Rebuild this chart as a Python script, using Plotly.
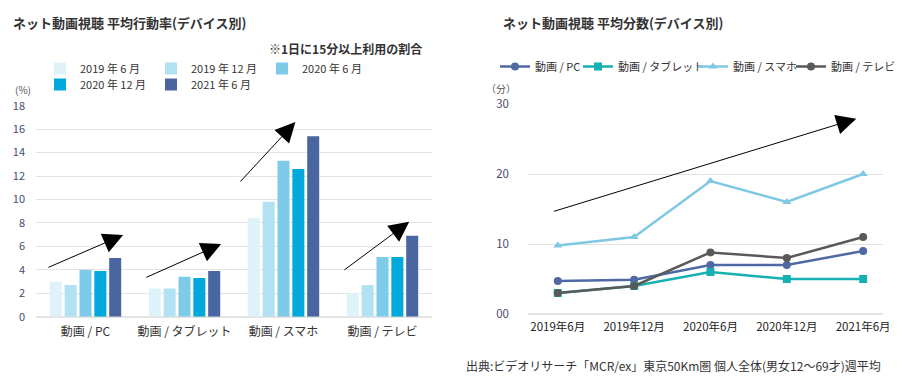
import plotly.graph_objects as go

# ---------- Left chart data: average activity rate (%) ----------
devices = ["動画 / PC", "動画 / タブレット", "動画 / スマホ", "動画 / テレビ"]
period_labels = ["2019 年 6 月", "2019 年 12 月", "2020 年 6 月", "2020 年 12 月", "2021 年 6 月"]
rate_2019_06 = [3.0, 2.4, 8.4, 2.0]
rate_2019_12 = [2.7, 2.4, 9.8, 2.7]
rate_2020_06 = [4.0, 3.4, 13.3, 5.1]
rate_2020_12 = [3.9, 3.3, 12.6, 5.1]
rate_2021_06 = [5.0, 3.9, 15.4, 6.9]
bar_colors = ["#dff1f9", "#b2e1f3", "#7dcbe9", "#00a8dc", "#4a66a1"]

# ---------- Right chart data: average minutes ----------
months = ["2019年6月", "2019年12月", "2020年6月", "2020年12月", "2021年6月"]
min_pc = [4.7, 4.9, 7.0, 7.0, 9.0]
min_tablet = [3.0, 4.0, 6.0, 5.0, 5.0]
min_smartphone = [9.8, 11.0, 19.0, 16.0, 20.0]
min_tv = [3.0, 4.0, 8.8, 8.0, 11.0]
line_names = ["動画 / PC", "動画 / タブレット", "動画 / スマホ", "動画 / テレビ"]
line_colors = ["#4e69a3", "#17b0b2", "#7ec8e3", "#595959"]
line_symbols = ["circle", "square", "triangle-up", "circle"]
y_ticks_right = [0, 10, 20, 30]
y_ticktext_right = ["00", "10", "20", "30"]

FONT = "Noto Sans CJK JP"
W, H = 914, 382

fig = go.Figure()

rates = [rate_2019_06, rate_2019_12, rate_2020_06, rate_2020_12, rate_2021_06]
for i, (lab, vals, col) in enumerate(zip(period_labels, rates, bar_colors)):
    fig.add_trace(go.Bar(
        x=devices, y=vals, name=lab, marker_color=col, marker_line_width=0,
        xaxis="x", yaxis="y", legend="legend" if i < 3 else "legend3",
    ))

line_legends = ["legend2", "legend4", "legend5", "legend6"]
minutes = [min_pc, min_tablet, min_smartphone, min_tv]
for nm, vals, col, sym, lg in zip(line_names, minutes, line_colors, line_symbols, line_legends):
    fig.add_trace(go.Scatter(
        x=months, y=vals, name=nm, mode="lines+markers",
        line=dict(color=col, width=2.5), marker=dict(color=col, size=8, symbol=sym),
        xaxis="x2", yaxis="y2", legend=lg,
    ))

# arrows (tail -> head) in data coordinates
left_arrows = [(-0.39, 4.15, 0.38, 6.97), (0.60, 3.3, 1.37, 6.2),
               (1.55, 11.4, 2.12, 16.6), (2.60, 3.9, 3.27, 8.1)]
annotations = []
for ax_, ay_, x_, y_ in left_arrows:
    annotations.append(dict(x=x_, y=y_, ax=ax_, ay=ay_, xref="x", yref="y", axref="x", ayref="y",
                            text="", showarrow=True, arrowhead=2, arrowsize=4, arrowwidth=1,
                            arrowcolor="#000000"))
annotations.append(dict(x=3.91, y=27.9, ax=-0.07, ay=14.6, xref="x2", yref="y2", axref="x2", ayref="y2",
                        text="", showarrow=True, arrowhead=2, arrowsize=4, arrowwidth=1,
                        arrowcolor="#000000"))

def ptxt(text, x, y, size, color="#333333", bold=False, xanchor="left"):
    return dict(text=f"<b>{text}</b>" if bold else text, x=x / W, y=1 - y / H, xref="paper", yref="paper",
                xanchor=xanchor, yanchor="middle", showarrow=False,
                font=dict(family=FONT, size=size, color=color))

annotations += [
    ptxt("ネット動画視聴 平均行動率(デバイス別)", 11, 22, 13, bold=True),
    ptxt("※1日に15分以上利用の割合", 267, 48, 12, bold=True),
    ptxt("(%)", 13, 90, 10, color="#555555"),
    ptxt("ネット動画視聴 平均分数(デバイス別)", 501, 22, 13, bold=True),
    ptxt("（分）", 484, 88, 10, color="#555555"),
    ptxt("出典:ビデオリサーチ「MCR/ex」東京50Km圏 個人全体(男女12〜69才)週平均", 464, 365, 12),
]

tickcol = "#4a4a6a"
grid = "#e3e3e3"

def bar_legend(y):
    return dict(orientation="h", x=40 / W, y=1 - y / H, xanchor="left", yanchor="top",
                entrywidth=66, entrywidthmode="pixels", font=dict(size=11, color="#333333"),
                bgcolor="rgba(0,0,0,0)", traceorder="normal")

def line_legend(x):
    return dict(orientation="h", x=x / W, y=1 - 52 / H, xanchor="left", yanchor="top",
                font=dict(size=11, color="#333333"), bgcolor="rgba(0,0,0,0)", itemwidth=30)

fig.update_layout(
    width=W, height=H, margin=dict(l=0, r=0, t=0, b=0, autoexpand=False),
    paper_bgcolor="white", plot_bgcolor="white",
    font=dict(family=FONT, color="#333333"),
    barmode="group", bargap=0.25, bargroupgap=0.19,
    xaxis=dict(domain=[36 / W, 432 / W], anchor="y", showgrid=False, showline=False, ticks="",
               tickfont=dict(size=12, color="#333333"), ticklabelstandoff=6),
    yaxis=dict(domain=[1 - 316.7 / H, 1 - 105.7 / H], anchor="x", range=[0, 18], dtick=2,
               showgrid=True, gridcolor=grid, gridwidth=1, zeroline=True, zerolinecolor=grid,
               tickfont=dict(size=11, color=tickcol), ticklabelstandoff=10),
    xaxis2=dict(domain=[528 / W, 883 / W], anchor="y2", range=[-0.39, 4.26], showgrid=False,
                showline=False, ticks="", tickfont=dict(size=11.5, color="#222222"), ticklabelstandoff=4),
    yaxis2=dict(domain=[1 - 314 / H, 1 - 104 / H], anchor="x2", range=[0, 30],
                tickvals=y_ticks_right, ticktext=y_ticktext_right,
                showgrid=True, gridcolor=grid, gridwidth=1, zeroline=True, zerolinecolor=grid,
                tickfont=dict(size=11.5, color=tickcol), ticklabelstandoff=18),
    legend=bar_legend(54),
    legend3=bar_legend(70),
    legend2=line_legend(495),
    legend4=line_legend(578),
    legend5=line_legend(693),
    legend6=line_legend(791),
    annotations=annotations,
    showlegend=True,
)

fig.write_html("out.html", config={"displayModeBar": False},
               post_script="document.body.style.margin='0';")
